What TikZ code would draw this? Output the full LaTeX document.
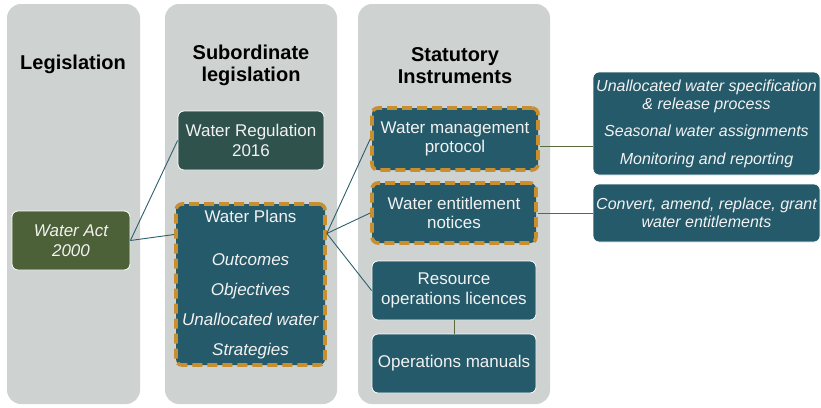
\documentclass[tikz,border=0pt]{standalone}
\usepackage{fontspec}
\setmainfont{Liberation Sans}
\usetikzlibrary{positioning}

\definecolor{colgrey}{HTML}{CED2D1}
\definecolor{boxteal}{HTML}{255A6A}
\definecolor{regteal}{HTML}{30524D}
\definecolor{actgreen}{HTML}{4D6138}
\definecolor{keygold}{HTML}{C98F2E}
\definecolor{linkteal}{HTML}{2C5F6E}
\definecolor{linkolive}{HTML}{566B3E}

\tikzset{
    colbg/.style={fill=colgrey, rounded corners=14pt},
    hdr/.style={font=\fontsize{20}{22}\selectfont\bfseries, align=center},
    box/.style={fill=boxteal, draw=white, line width=0.8pt, rounded corners=6pt,
        text=white!95!black, align=center, inner sep=2pt,
        font=\fontsize{17}{19.5}\selectfont},
    keybox/.style={box, draw=keygold, line width=3.6pt, dash pattern=on 10pt off 5pt},
    notebox/.style={box, font=\fontsize{16}{18}\selectfont\itshape},
    link/.style={draw=linkteal, line width=0.9pt},
    sidelink/.style={draw=linkolive, line width=0.9pt},
}

\begin{document}
\begin{tikzpicture}[x=1pt, y=-1pt]
    \useasboundingbox (0,0) rectangle (821,407);

    % columns
    \fill[colbg] (7,4) rectangle (140,404);
    \fill[colbg] (165,4) rectangle (337,404);
    \fill[colbg] (358,4) rectangle (550,404);

    \node[hdr] (hlegis) at (73,64.5) {Legislation};
    \node[hdr] (hsub) at (251,65.5) {Subordinate\\legislation};
    \node[hdr] (hstat) at (455,65.5) {Statutory\\Instruments};

    % legislation
    \node[box, fill=actgreen, minimum width=118pt, minimum height=59pt,
        font=\fontsize{17}{20}\selectfont\itshape] (act) at (71,240.5) {Water Act\\2000};

    % subordinate legislation
    \node[box, fill=regteal, minimum width=146pt, minimum height=59pt]
        (reg) at (251,140.5) {Water Regulation\\2016};
    \node[keybox, minimum width=149pt, minimum height=161pt] (plans) at (250.5,284.5)
        {Water Plans\\[24pt]\textit{Outcomes}\\[10.5pt]\textit{Objectives}\\[10.5pt]%
        \textit{Unallocated water}\\[10.5pt]\textit{Strategies}};

    % statutory instruments
    \node[keybox, minimum width=166pt, minimum height=62pt] (prot) at (455,139)
        {Water management\\protocol};
    \node[keybox, minimum width=164pt, minimum height=60pt] (ent) at (454,213)
        {Water entitlement\\notices};
    \node[box, minimum width=164pt, minimum height=59pt] (res) at (454,290.5)
        {Resource\\operations licences};
    \node[box, minimum width=164pt, minimum height=59pt] (ops) at (454,363.5)
        {Operations manuals};

    % notes
    \node[notebox, minimum width=227pt, minimum height=103pt] (spec) at (706.5,123.5)
        {Unallocated water specification\\\& release process\\[9pt]%
        Seasonal water assignments\\[10pt]Monitoring and reporting};
    \node[notebox, minimum width=227pt, minimum height=58pt] (conv) at (706.5,213)
        {Convert, amend, replace, grant\\water entitlements};

    % connectors
    \draw[link] (act.east) -- (reg.west);
    \draw[link] (act.east) -- ([yshift=50pt]plans.west);
    \draw[link] ([yshift=51pt]plans.east) -- (prot.west);
    \draw[link] ([yshift=51pt]plans.east) -- (ent.west);
    \draw[link] ([yshift=51pt]plans.east) -- (res.west);
    \draw[sidelink] ([yshift=-7pt]prot.east) -- ([yshift=-7pt]prot.east -| spec.west);
    \draw[sidelink] (ent.east) -- (conv.west);
    \draw[sidelink] (res.south) -- (ops.north);
\end{tikzpicture}
\end{document}
